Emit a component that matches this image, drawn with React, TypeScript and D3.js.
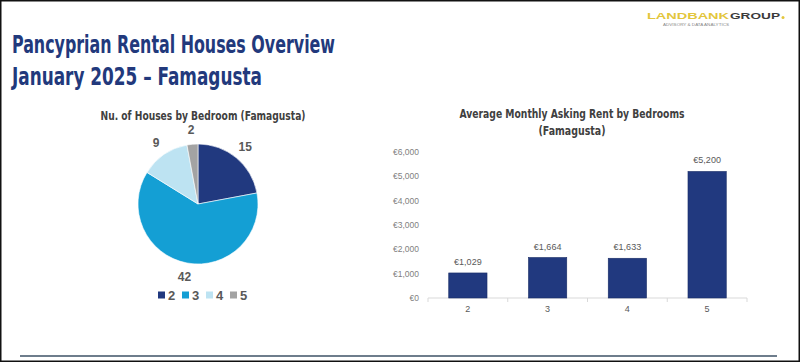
import React from "react";
import * as d3 from "d3";

// Pie: number of houses by bedroom
const bedrooms = ["2", "3", "4", "5"];
const houseCounts = [15, 42, 9, 2];
const pieColors = ["#21397f", "#149fd4", "#bde3f2", "#a3a3a3"];

// Bars: average monthly asking rent
const rentCategories = ["2", "3", "4", "5"];
const rentValues = [1029, 1664, 1633, 5200];
const yTicks = [0, 1000, 2000, 3000, 4000, 5000, 6000];

const narrow = "'Liberation Sans Narrow', 'DejaVu Sans Condensed', 'Roboto Condensed', Arial, sans-serif";
const sans = "'Liberation Sans', Arial, sans-serif";

const euro = (v: number) => "€" + d3.format(",")(v);

const App = () => {
  const width = 800;
  const height = 362;

  // pie setup
  const cx = 198, cy = 204, r = 60;
  const pieGen = d3.pie<number>().sort(null).value((d) => d);
  const arcs = pieGen(houseCounts);
  const arcGen = d3.arc<d3.PieArcDatum<number>>().innerRadius(0).outerRadius(r);
  const labelArc = d3.arc<d3.PieArcDatum<number>>().innerRadius(74).outerRadius(74);

  // bar setup
  const x = d3.scaleBand().domain(rentCategories).range([428, 747]).paddingInner(0.52).paddingOuter(0.26);
  const y = d3.scaleLinear().domain([0, 6000]).range([298, 152]);
  const step = x.step();
  const boundaries = d3.range(rentCategories.length + 1).map((i) => 428 + i * step);

  return (
    <div style={{ position: "fixed", left: 0, top: 0 }}>
      <svg width={width} height={height} style={{ display: "block", background: "#fff" }}>
        {/* frame */}
        <rect x={0.75} y={0.75} width={width - 1.5} height={height - 1.5} fill="none" stroke="#111" strokeWidth={1.5} />
        <line x1={20} x2={777} y1={356} y2={356} stroke="#6e7d8c" strokeWidth={2} />

        {/* main title */}
        <text x={12} y={53} fontFamily={narrow} fontWeight="bold" fontSize={24} fill="#22397c"
          textLength={323} lengthAdjust="spacingAndGlyphs">Pancyprian Rental Houses Overview</text>
        <text x={12} y={85} fontFamily={narrow} fontWeight="bold" fontSize={24} fill="#22397c"
          textLength={250} lengthAdjust="spacingAndGlyphs">January 2025 – Famagusta</text>

        {/* logo */}
        <text x={647} y={19} fontFamily={sans} fontWeight="bold" fontSize={9.5} fill="#e3c63c"
          textLength={82} lengthAdjust="spacingAndGlyphs">LANDBANK</text>
        <text x={730} y={19} fontFamily={sans} fontWeight="bold" fontSize={9.5} fill="#3b3b3b"
          textLength={50} lengthAdjust="spacingAndGlyphs">GROUP</text>
        <circle cx={783} cy={17.5} r={1.5} fill="#e3c63c" />
        <text x={663} y={26} fontFamily={sans} fontSize={3.2} fill="#888"
          textLength={66} lengthAdjust="spacingAndGlyphs">ADVISORY &amp; DATA ANALYTICS</text>

        {/* pie chart */}
        <text x={203} y={120} textAnchor="middle" fontFamily={narrow} fontWeight="bold" fontSize={13} fill="#404040"
          textLength={205} lengthAdjust="spacingAndGlyphs">Nu. of Houses by Bedroom (Famagusta)</text>
        <g transform={`translate(${cx},${cy})`}>
          {arcs.map((a, i) => (
            <path key={i} d={arcGen(a) || ""} fill={pieColors[i]} stroke="#fff" strokeWidth={0.6} />
          ))}
          {arcs.map((a, i) => {
            const [lx, ly] = labelArc.centroid(a);
            return (
              <text key={"l" + i} x={lx} y={ly} textAnchor="middle" dominantBaseline="central"
                fontFamily={sans} fontWeight="bold" fontSize={12} fill="#595959">{houseCounts[i]}</text>
            );
          })}
        </g>
        {/* pie legend */}
        <g>
          {bedrooms.map((b, i) => (
            <g key={b} transform={`translate(${158 + i * 24},295)`}>
              <rect x={0} y={-3.5} width={7} height={7} fill={pieColors[i]} />
              <text x={10} y={0} dominantBaseline="central" fontFamily={sans} fontWeight="bold" fontSize={13} fill="#595959">{b}</text>
            </g>
          ))}
        </g>

        {/* bar chart */}
        <text x={572} y={118} textAnchor="middle" fontFamily={narrow} fontWeight="bold" fontSize={13} fill="#404040"
          textLength={225} lengthAdjust="spacingAndGlyphs">Average Monthly Asking Rent by Bedrooms</text>
        <text x={572} y={135} textAnchor="middle" fontFamily={narrow} fontWeight="bold" fontSize={13} fill="#404040"
          textLength={67} lengthAdjust="spacingAndGlyphs">(Famagusta)</text>

        {yTicks.map((t) => (
          <text key={t} x={419} y={y(t)} textAnchor="end" dominantBaseline="central"
            fontFamily={sans} fontSize={8.5} fill="#7f7f7f">{euro(t)}</text>
        ))}
        <line x1={428} x2={747} y1={y(0)} y2={y(0)} stroke="#d9d9d9" strokeWidth={1} />
        {boundaries.map((bx, i) => (
          <line key={i} x1={bx} x2={bx} y1={y(0)} y2={y(0) + 4} stroke="#d9d9d9" strokeWidth={1} />
        ))}
        {rentCategories.map((c, i) => (
          <g key={c}>
            <rect x={x(c)} y={y(rentValues[i])} width={x.bandwidth()} height={y(0) - y(rentValues[i])}
              fill="#21397f" stroke="#1a2d66" strokeWidth={0.6} />
            <text x={(x(c) || 0) + x.bandwidth() / 2} y={y(rentValues[i]) - 11} textAnchor="middle" dominantBaseline="central"
              fontFamily={sans} fontSize={9} fill="#595959">{euro(rentValues[i])}</text>
            <text x={(x(c) || 0) + x.bandwidth() / 2} y={309} textAnchor="middle" dominantBaseline="central"
              fontFamily={sans} fontSize={9} fill="#595959">{c}</text>
          </g>
        ))}
      </svg>
    </div>
  );
};

export default App;
